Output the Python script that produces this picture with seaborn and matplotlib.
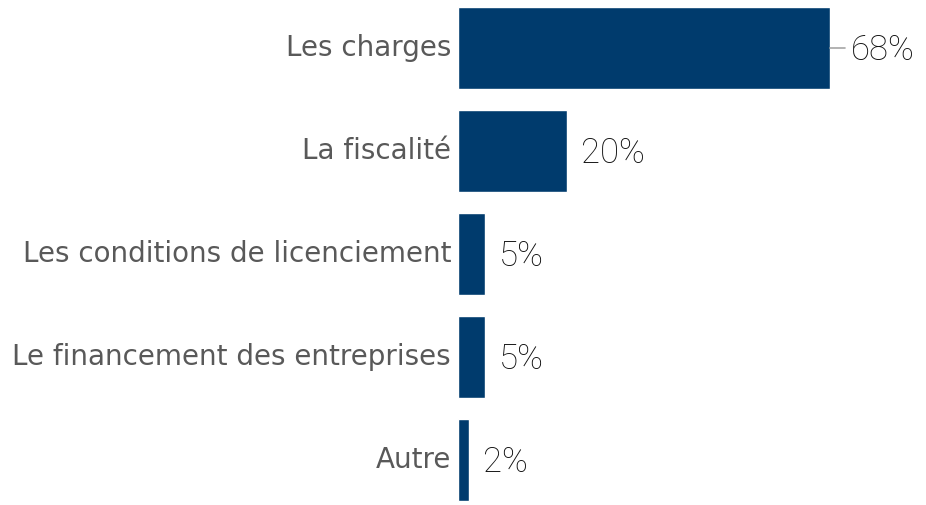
import matplotlib
matplotlib.use("Agg")
import matplotlib.pyplot as plt
import seaborn as sns
import pandas as pd

categories = ["Les charges", "La fiscalité", "Les conditions de licenciement",
              "Le financement des entreprises", "Autre"]
values = [68, 20, 5, 5, 2]
labels = ["68%", "20%", "5%", "5%", "2%"]

sns.set_theme(style="white")
plt.rcParams['font.family'] = ['DejaVu Sans']

df = pd.DataFrame({"cat": categories, "val": values})

W, H = 926, 505
fig = plt.figure(figsize=(W / 100, H / 100), dpi=100)
left_px, right_px = 458, 830
top_px, bot_px = -3.5, 511.5
ax = fig.add_axes([left_px / W, (H - bot_px) / H, (right_px - left_px) / W, (bot_px - top_px) / H])

sns.barplot(data=df, x="val", y="cat", orient="h", color="#003b6d", width=0.8,
            saturation=1, ax=ax)
ax.set_xlim(0, max(values))
ax.set_ylim(len(values) - 0.5, -0.5)
ax.set_xlabel("")
ax.set_ylabel("")
ax.set_xticks([])
for s in ax.spines.values():
    s.set_visible(False)
ax.tick_params(axis="y", length=0, pad=5, labelsize=20, labelcolor="#595959")
for t in ax.get_yticklabels():
    t.set_fontfamily("DejaVu Sans")
    t.set_va("center")

px_per_unit = (right_px - left_px) / max(values)
for i, (v, lab) in enumerate(zip(values, labels)):
    if v == max(values):
        ax.plot([v, v + 15 / px_per_unit], [i, i], color="#a6a6a6", lw=1.2, clip_on=False)
        x = v + 21 / px_per_unit
    else:
        x = v + 14 / px_per_unit
    ax.text(x, i + 0.02, lab, va="center", ha="left", fontsize=25, color="#111111",
            fontfamily="Roboto", fontweight="light", clip_on=False)

fig.savefig("out.png", dpi=100)
